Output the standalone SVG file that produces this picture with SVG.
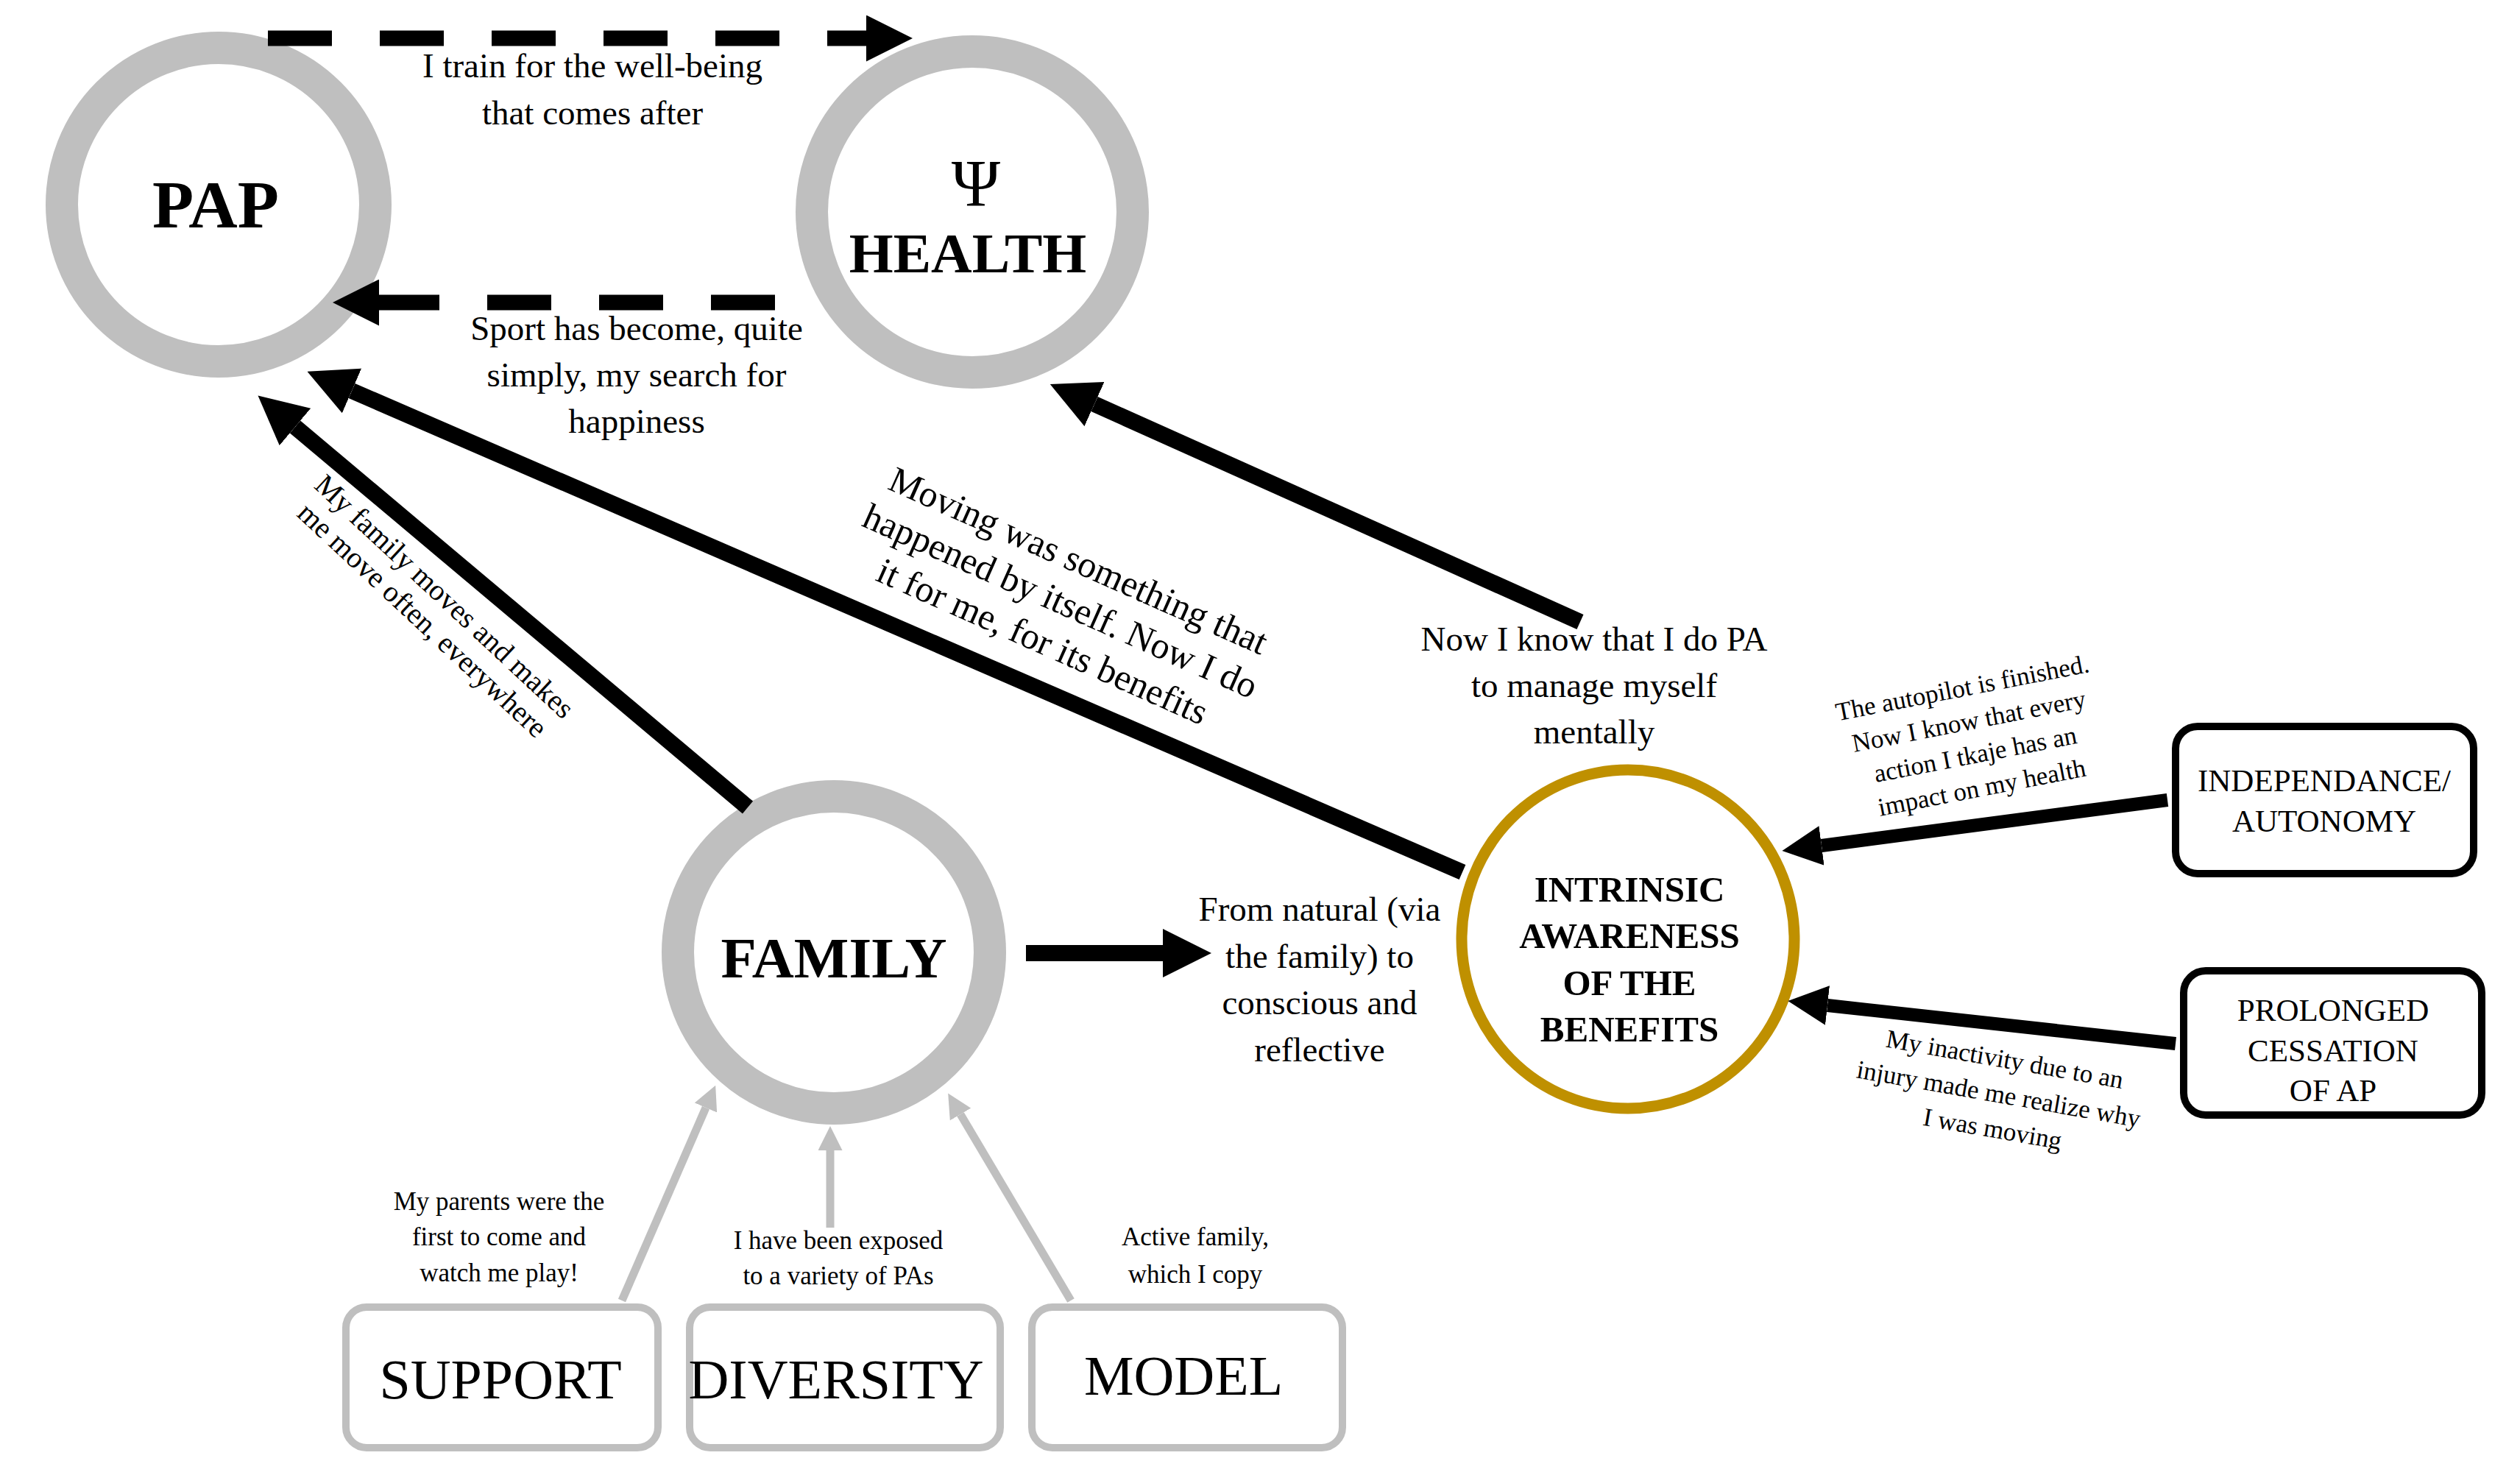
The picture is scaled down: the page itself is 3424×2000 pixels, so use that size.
<svg xmlns="http://www.w3.org/2000/svg" width="3424" height="2000" viewBox="0 0 3424 2000">
<style>
text{font-family:"Liberation Serif","Times New Roman",serif;fill:#000;text-anchor:middle}
.ring{fill:#fff;stroke:#bfbfbf;stroke-width:44}
.big{font-weight:bold}
.lbl{font-size:47px}
.sm{font-size:35px}
.blk{stroke:#000;fill:none}
.gry{stroke:#bfbfbf;fill:none;stroke-width:11}
.bbox{fill:#fff;stroke:#000;stroke-width:10}
.gbox{fill:#fff;stroke:#bfbfbf;stroke-width:10}
</style>
<defs>
<marker id="ah" viewBox="0 0 3 3" refX="0" refY="1.5" markerWidth="3" markerHeight="3" orient="auto"><path d="M0,0 L3,1.5 L0,3 z" fill="#000"/></marker>
<marker id="ag" viewBox="0 0 3 3" refX="0" refY="1.5" markerWidth="3" markerHeight="3" orient="auto"><path d="M0,0 L3,1.5 L0,3 z" fill="#bfbfbf"/></marker>
</defs>
<g id="pap"><circle class="ring" cx="297" cy="278" r="213"/><text class="big" x="293" y="309" font-size="92">PAP</text></g>
<g id="health"><circle class="ring" cx="1321" cy="288" r="218"/><text x="1326" y="280" font-size="90">Ψ</text><text class="big" x="1315" y="370" font-size="77">HEALTH</text></g>
<g id="family"><circle class="ring" cx="1133" cy="1294" r="212"/><text class="big" x="1133" y="1328" font-size="79">FAMILY</text></g>
<g id="intrinsic"><ellipse cx="2212" cy="1276" rx="226" ry="230" fill="#fff" stroke="#bf9000" stroke-width="15"/>
<text class="big" font-size="49"><tspan x="2214" y="1225">INTRINSIC</tspan><tspan x="2214" y="1288">AWARENESS</tspan><tspan x="2214" y="1352">OF THE</tspan><tspan x="2214" y="1415">BENEFITS</tspan></text></g>
<g id="independance"><rect class="bbox" x="2956" y="987" width="405" height="200" rx="30"/><text font-size="43"><tspan x="3158" y="1075">INDEPENDANCE/</tspan><tspan x="3158" y="1130">AUTONOMY</tspan></text></g>
<g id="prolonged"><rect class="bbox" x="2967" y="1319" width="405" height="196" rx="30"/><text font-size="43"><tspan x="3170" y="1387">PROLONGED</tspan><tspan x="3170" y="1442">CESSATION</tspan><tspan x="3170" y="1496">OF AP</tspan></text></g>
<g id="support"><rect class="gbox" x="470" y="1776" width="424" height="191" rx="28"/><text x="680" y="1900" font-size="76">SUPPORT</text></g>
<g id="diversity"><rect class="gbox" x="937" y="1776" width="422" height="191" rx="28"/><text x="1136" y="1900" font-size="76">DIVERSITY</text></g>
<g id="model"><rect class="gbox" x="1402" y="1776" width="422" height="191" rx="28"/><text x="1608" y="1895" font-size="76">MODEL</text></g>
<g id="connectors">
<line class="blk" x1="364" y1="52" x2="1177" y2="52" stroke-width="21" stroke-dasharray="87 65" marker-end="url(#ah)"/>
<line class="blk" x1="1053" y1="411" x2="515" y2="411" stroke-width="21" stroke-dasharray="87 65" marker-end="url(#ah)"/>
<line class="blk" x1="1016" y1="1097" x2="401" y2="580" stroke-width="22" marker-end="url(#ah)"/>
<line class="blk" x1="1987" y1="1185" x2="478" y2="531" stroke-width="22" marker-end="url(#ah)"/>
<line class="blk" x1="2147" y1="845" x2="1487" y2="549" stroke-width="22" marker-end="url(#ah)"/>
<line class="blk" x1="1394" y1="1295" x2="1580" y2="1295" stroke-width="22" marker-end="url(#ah)"/>
<line class="blk" x1="2945" y1="1087" x2="2475" y2="1149" stroke-width="18" marker-end="url(#ah)"/>
<line class="blk" x1="2956" y1="1418" x2="2483" y2="1366" stroke-width="18" marker-end="url(#ah)"/>
<line class="gry" x1="845" y1="1767" x2="959" y2="1505" marker-end="url(#ag)"/>
<line class="gry" x1="1128" y1="1668" x2="1128" y2="1563" marker-end="url(#ag)"/>
<line class="gry" x1="1455" y1="1767" x2="1305" y2="1514" marker-end="url(#ag)"/>
<text class="lbl"><tspan x="805" y="105">I train for the well-being</tspan><tspan x="805" y="169">that comes after</tspan></text>
<text class="lbl"><tspan x="865" y="462">Sport has become, quite</tspan><tspan x="865" y="525">simply, my search for</tspan><tspan x="865" y="588">happiness</tspan></text>
<text font-size="40" transform="translate(595,820) rotate(43)"><tspan x="0" y="0">My family moves and makes</tspan><tspan x="0" y="44">me move often, everywhere</tspan></text>
<text font-size="50" transform="translate(1435,830) rotate(24)"><tspan x="0" y="-58">Moving was something that</tspan><tspan x="0" y="2">happened by itself. Now I do</tspan><tspan x="0" y="62">it for me, for its benefits</tspan></text>
<text class="lbl"><tspan x="2166" y="884">Now I know that I do PA</tspan><tspan x="2166" y="947">to manage myself</tspan><tspan x="2166" y="1010">mentally</tspan></text>
<text class="sm" transform="translate(2680,1005) rotate(-11)"><tspan x="0" y="-60">The autopilot  is finished.</tspan><tspan x="0" y="-14">Now I know that every</tspan><tspan x="0" y="32">action I tkaje has an</tspan><tspan x="0" y="78">impact on my health</tspan></text>
<text class="sm" transform="translate(2715,1490) rotate(10)"><tspan x="0" y="-40">My inactivity due to an</tspan><tspan x="0" y="8">injury made me realize why</tspan><tspan x="0" y="56">I was moving</tspan></text>
<text class="lbl"><tspan x="1793" y="1251">From natural (via</tspan><tspan x="1793" y="1315">the family) to</tspan><tspan x="1793" y="1378">conscious and</tspan><tspan x="1793" y="1442">reflective</tspan></text>
<text class="sm"><tspan x="678" y="1644">My parents were the</tspan><tspan x="678" y="1692">first to come and</tspan><tspan x="678" y="1741">watch me play!</tspan></text>
<text class="sm"><tspan x="1139" y="1697">I have been exposed</tspan><tspan x="1139" y="1745">to a variety of PAs</tspan></text>
<text class="sm"><tspan x="1624" y="1692">Active family,</tspan><tspan x="1624" y="1743">which I copy</tspan></text>
</g>
</svg>
